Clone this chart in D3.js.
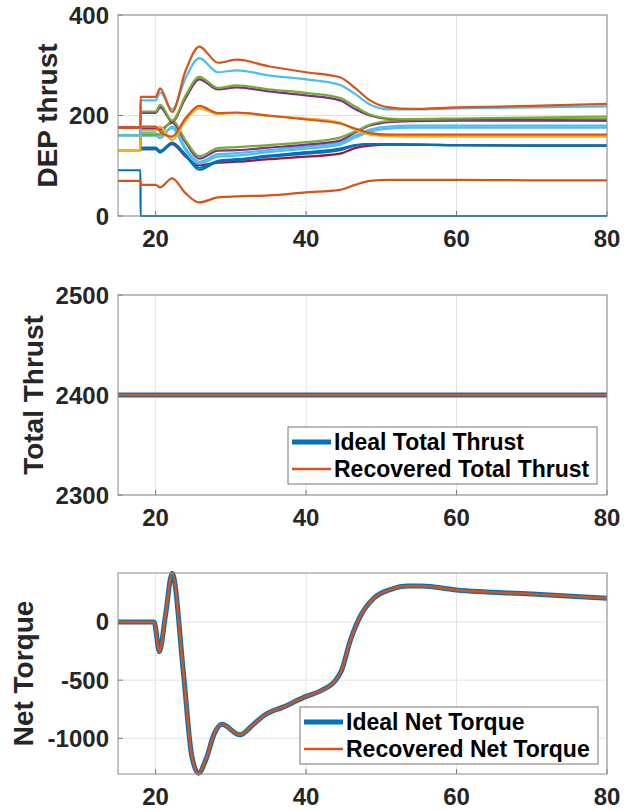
<!DOCTYPE html>
<html>
<head>
<meta charset="utf-8">
<script src="https://cdn.jsdelivr.net/npm/d3@7"></script>
<style>
  body { margin: 0; background: #fff; }
  svg { display: block; font-family: "Liberation Sans", Arial, sans-serif; font-weight: bold; }
</style>
</head>
<body>
<script>
// time axis for the DEP thrust traces (fault at t = 18)
var dep_time = [15, 17.99, 18, 20, 20.6, 22.2, 24, 25.8, 28.3, 30.8, 35, 40, 44.5, 46.5, 48.5, 51, 54, 60, 70, 80];

// one row per motor
var dep_thrust = [
  [91, 91, 0, 0, 0, 0, 0, 0, 0, 0, 0, 0, 0, 0, 0, 0, 0, 0, 0, 0],
  [176, 176, 133, 133, 128, 143, 118, 101, 106, 108, 113, 118, 124, 135, 140, 142, 142, 141, 140, 140],
  [131, 131, 136, 136, 130, 146, 122, 96, 110, 113, 120, 127, 134, 141, 143, 143, 142, 141, 140, 140],
  [131, 131, 133, 133, 126, 145, 120, 92, 108, 111, 118, 124, 131, 140, 143, 143, 142, 141, 140, 140],
  [161, 161, 165, 165, 160, 175, 130, 104, 118, 120, 127, 134, 142, 156, 168, 174, 176, 176, 176, 176],
  [161, 161, 160, 160, 155, 178, 135, 108, 123, 125, 131, 138, 146, 160, 172, 178, 180, 180, 180, 180],
  [176, 176, 174, 174, 172, 186, 146, 114, 130, 131, 136, 142, 150, 166, 180, 187, 189, 190, 190, 190],
  [161, 161, 161, 161, 163, 190, 150, 119, 135, 137, 141, 147, 156, 168, 182, 189, 191, 192, 193, 194],
  [70, 70, 62, 62, 57, 75, 45, 27, 37, 39, 41, 47, 52, 62, 70, 72, 72, 72, 71, 71],
  [176, 176, 205, 205, 216, 188, 235, 272, 252, 256, 248, 240, 230, 213, 200, 193, 192, 192, 191, 190],
  [161, 161, 208, 208, 221, 190, 240, 277, 255, 260, 252, 245, 235, 218, 202, 194, 193, 194, 196, 198],
  [131, 131, 170, 170, 178, 151, 190, 214, 203, 205, 199, 194, 186, 172, 162, 159, 158, 158, 158, 158],
  [176, 176, 178, 178, 168, 158, 195, 219, 205, 206, 200, 192, 184, 174, 165, 162, 162, 162, 162, 162],
  [161, 161, 230, 230, 246, 212, 275, 314, 286, 290, 280, 272, 261, 243, 222, 212, 212, 214, 216, 218],
  [176, 176, 237, 237, 254, 207, 290, 337, 305, 311, 298, 286, 276, 255, 230, 216, 213, 216, 219, 223]
];
var dep_colors = ["#0072BD", "#A2142F", "#0072BD", "#0072BD", "#4DBEEE", "#4DBEEE", "#7E2F8E", "#77AC30",
                  "#D95319", "#7E2F8E", "#77AC30", "#EDB120", "#D95319", "#4DBEEE", "#D95319"];

// total thrust
var total_time = [15, 80];
var total_ideal = [2400, 2400];
var total_recovered = [2400, 2400];

// net torque
var tq_time = [15, 19.8, 20.5, 21.3, 22.2, 23.7, 24.8, 25.7, 26.7, 27.8, 28.8, 31.2, 33, 34.5, 37, 40, 42, 43.8, 44.7, 45.9, 47.3, 49, 51.3, 53.5, 55.3, 60, 70, 80];
var tq_ideal = [0, 0, -255, 50, 418, -440, -1150, -1300, -1180, -960, -880, -970, -880, -800, -730, -640, -590, -510, -420, -155, 60, 204, 281, 309, 309, 275, 240, 204];
var tq_recovered = [0, 0, -255, 50, 418, -440, -1150, -1300, -1180, -960, -880, -970, -880, -800, -730, -640, -590, -510, -420, -155, 60, 204, 281, 309, 309, 275, 240, 204];

var x_ticks = [20, 40, 60, 80];
var dep_ticks = [0, 200, 400];
var total_ticks = [2300, 2400, 2500];
var tq_ticks = [-1000, -500, 0];

var W = 624, H = 811;
var svg = d3.select('body').append('svg').attr('width', W).attr('height', H);

var x = d3.scaleLinear().domain([15, 80]).range([118, 607]);

// draws box, grid, ticks, labels for one panel and returns the y scale
function panel(id, top, bottom, ydomain, yticks, label, labelX) {
  var y = d3.scaleLinear().domain(ydomain).range([bottom, top]);
  var g = svg.append('g');

  g.append('rect').attr('x', x.range()[0]).attr('y', top)
    .attr('width', x.range()[1] - x.range()[0]).attr('height', bottom - top)
    .attr('fill', '#fff');

  // grid
  g.selectAll('.gx').data(x_ticks).enter().append('line')
    .attr('x1', d => x(d)).attr('x2', d => x(d)).attr('y1', top).attr('y2', bottom)
    .attr('stroke', '#e3e3e3').attr('stroke-width', 1);
  g.selectAll('.gy').data(yticks).enter().append('line')
    .attr('x1', x.range()[0]).attr('x2', x.range()[1]).attr('y1', d => y(d)).attr('y2', d => y(d))
    .attr('stroke', '#e3e3e3').attr('stroke-width', 1);

  // tick marks, pointing in
  g.selectAll('.tx').data(x_ticks).enter().append('line')
    .attr('x1', d => x(d)).attr('x2', d => x(d)).attr('y1', bottom).attr('y2', bottom - 5)
    .attr('stroke', '#777');
  g.selectAll('.ty').data(yticks).enter().append('line')
    .attr('x1', x.range()[0]).attr('x2', x.range()[0] + 5).attr('y1', d => y(d)).attr('y2', d => y(d))
    .attr('stroke', '#777');

  g.selectAll('.lx').data(x_ticks).enter().append('text')
    .attr('x', d => x(d)).attr('y', bottom + 31)
    .attr('text-anchor', 'middle').attr('font-size', 24).attr('fill', '#262626')
    .text(d => d);
  g.selectAll('.ly').data(yticks).enter().append('text')
    .attr('x', 109).attr('y', d => y(d) + 8.5)
    .attr('text-anchor', 'end').attr('font-size', 24).attr('fill', '#262626')
    .text(d => d);

  g.append('text')
    .attr('transform', 'translate(' + labelX + ',' + ((top + bottom) / 2) + ') rotate(-90)')
    .attr('text-anchor', 'middle').attr('font-size', 28).attr('fill', '#262626')
    .text(label);

  svg.append('clipPath').attr('id', id)
    .append('rect').attr('x', x.range()[0]).attr('y', top - 2)
    .attr('width', x.range()[1] - x.range()[0] + 2).attr('height', bottom - top + 4);

  return y;
}

function box(top, bottom) {
  svg.append('rect').attr('x', x.range()[0]).attr('y', top)
    .attr('width', x.range()[1] - x.range()[0]).attr('height', bottom - top)
    .attr('fill', 'none').attr('stroke', '#8c8c8c').attr('stroke-width', 1);
}

function legend(left, top, width, names) {
  var g = svg.append('g');
  g.append('rect').attr('x', left).attr('y', top).attr('width', width).attr('height', 57)
    .attr('fill', '#fff').attr('stroke', '#777').attr('stroke-width', 1);
  var rows = [{name: names[0], c: '#0072BD', w: 5}, {name: names[1], c: '#D95319', w: 2.5}];
  rows.forEach(function(r, i) {
    var cy = top + 15 + i * 27;
    g.append('line').attr('x1', left + 4).attr('x2', left + 43).attr('y1', cy).attr('y2', cy)
      .attr('stroke', r.c).attr('stroke-width', r.w);
    g.append('text').attr('x', left + 46).attr('y', cy + 8).attr('font-size', 23).attr('fill', '#000')
      .text(r.name);
  });
}

// top: DEP thrust
var y1 = panel('c1', 15, 216, [0, 400], dep_ticks, 'DEP thrust', 57);
var depLine = d3.line().x((d, i) => x(dep_time[i])).y(d => y1(d)).curve(d3.curveMonotoneX);
svg.append('g').attr('clip-path', 'url(#c1)')
  .selectAll('path').data(dep_thrust).enter().append('path')
  .attr('d', depLine)
  .attr('fill', 'none')
  .attr('stroke', (d, i) => dep_colors[i])
  .attr('stroke-width', 2.2);
box(15, 216);

// middle: total thrust
var y2 = panel('c2', 295, 495, [2300, 2500], total_ticks, 'Total Thrust', 43);
var totLine = d3.line().x((d, i) => x(total_time[i])).y(d => y2(d));
var g2 = svg.append('g').attr('clip-path', 'url(#c2)');
g2.append('path').attr('d', totLine(total_ideal)).attr('fill', 'none').attr('stroke', '#0072BD').attr('stroke-width', 5);
g2.append('path').attr('d', totLine(total_recovered)).attr('fill', 'none').attr('stroke', '#D95319').attr('stroke-width', 2.5);
box(295, 495);
legend(288, 427, 309, ['Ideal Total Thrust', 'Recovered Total Thrust']);

// bottom: net torque
var y3 = panel('c3', 573, 774, [-1307, 421], tq_ticks, 'Net Torque', 33);
var tqLine = d3.line().x((d, i) => x(tq_time[i])).y(d => y3(d)).curve(d3.curveMonotoneX);
var g3 = svg.append('g').attr('clip-path', 'url(#c3)');
g3.append('path').attr('d', tqLine(tq_ideal)).attr('fill', 'none').attr('stroke', '#0072BD').attr('stroke-width', 5);
g3.append('path').attr('d', tqLine(tq_recovered)).attr('fill', 'none').attr('stroke', '#D95319').attr('stroke-width', 2.5);
box(573, 774);
legend(300, 707, 298, ['Ideal Net Torque', 'Recovered Net Torque']);
</script>
</body>
</html>
